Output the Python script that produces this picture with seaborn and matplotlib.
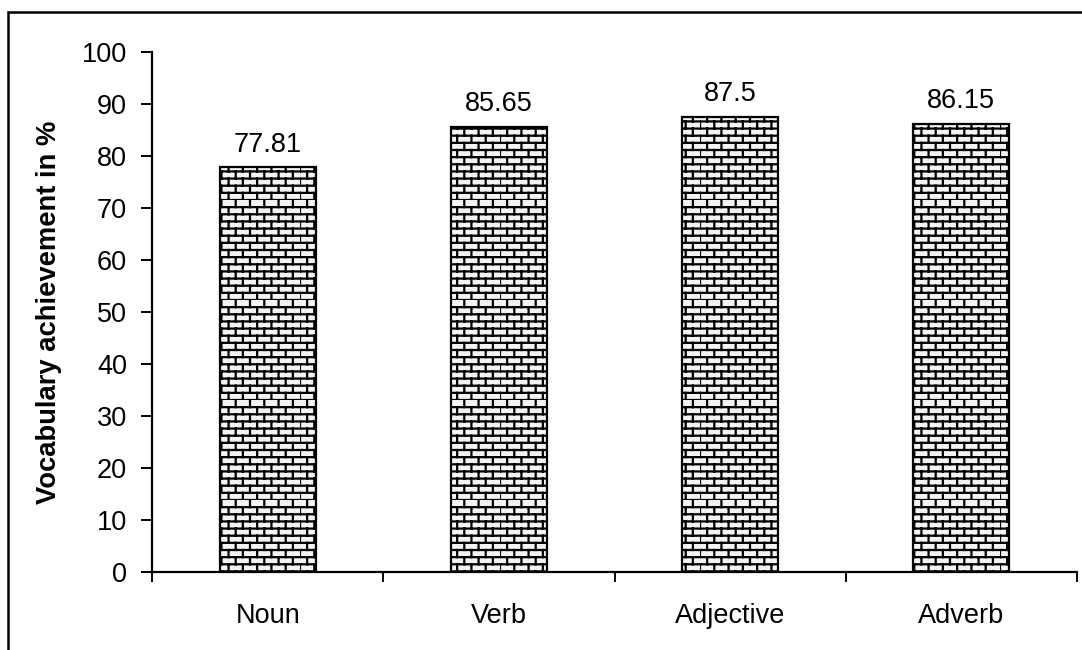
import warnings
import numpy as np
import matplotlib
matplotlib.use("Agg")
import matplotlib.pyplot as plt
import matplotlib.hatch as mhatch
from matplotlib.path import Path
from matplotlib.patches import Rectangle
import seaborn as sns

warnings.filterwarnings("ignore")

# Data
categories = ["Noun", "Verb", "Adjective", "Adverb"]
achievement = [77.81, 85.65, 87.5, 86.15]
y_ticks = [0, 10, 20, 30, 40, 50, 60, 70, 80, 90, 100]
y_label = "Vocabulary achievement in %"

FS = 19.5


class BrickHatch(mhatch.HatchPatternBase):
    """Running-bond brick pattern, selected with the 'b' hatch character."""
    rows = 14
    cols = 7

    def __init__(self, hatch, density):
        self.on = hatch.count("b") > 0
        if self.on:
            # horizontal lines + vertical joints per row
            self.num_vertices = 2 * self.rows + 2 * self.rows * self.cols
        else:
            self.num_vertices = 0

    def set_vertices_and_codes(self, vertices, codes):
        segs = []
        h = 1.0 / self.rows
        w = 1.0 / self.cols
        for i in range(self.rows):
            y0 = i * h
            segs.append(((0.0, y0), (1.0, y0)))
        for i in range(self.rows):
            y0, y1 = i * h, (i + 1) * h
            off = 0.5 * w if i % 2 else 0.0
            for j in range(self.cols):
                x = j * w + off
                segs.append(((x, y0), (x, y1)))
        arr = np.array(segs).reshape(-1, 2)
        vertices[:] = arr
        codes[0::2] = Path.MOVETO
        codes[1::2] = Path.LINETO


mhatch._hatch_types.append(BrickHatch)

sns.set_theme(style="white")
plt.rcParams["font.family"] = ["Liberation Sans", "DejaVu Sans"]
plt.rcParams["text.color"] = "black"
plt.rcParams["axes.labelcolor"] = "black"
plt.rcParams["xtick.color"] = "black"
plt.rcParams["ytick.color"] = "black"
plt.rcParams["hatch.linewidth"] = 1.6
plt.rcParams["hatch.color"] = "black"

fig = plt.figure(figsize=(10.82, 6.5), dpi=100)
ax = fig.add_axes([152 / 1082, 1 - 572 / 650, 925 / 1082, 520 / 650])

sns.barplot(x=categories, y=achievement, ax=ax, width=0.415,
            color="#f2f2f2", saturation=1, edgecolor="black", linewidth=1.6)

for p in ax.patches:
    p.set_facecolor("#f3f3f3")
    p.set_edgecolor("black")
    p.set_hatch("b")

ax.bar_label(ax.containers[0], labels=[f"{v:g}" for v in achievement],
             padding=7, fontsize=FS, color="black")

ax.set_ylim(0, 100)
ax.set_xlim(-0.5, len(categories) - 0.5)
ax.set_yticks(y_ticks)
ax.set_yticklabels([str(t) for t in y_ticks], fontsize=FS, color="black")

# Category boundaries as major ticks, names as minor ticks
ax.set_xticks(np.arange(-0.5, len(categories), 1.0))
ax.set_xticklabels([])
ax.set_xticks(np.arange(len(categories)), minor=True)
ax.set_xticklabels(categories, minor=True, fontsize=FS, color="black")
ax.tick_params(axis="x", which="major", direction="out", length=7.5,
               width=1.4, color="black", bottom=True)
ax.tick_params(axis="x", which="minor", length=0, pad=22)
ax.tick_params(axis="y", direction="out", length=8, width=1.4,
               color="black", left=True, pad=10)

for side in ["top", "right"]:
    ax.spines[side].set_visible(False)
for side in ["left", "bottom"]:
    ax.spines[side].set_color("black")
    ax.spines[side].set_linewidth(1.6)

ax.set_xlabel("")
ax.set_ylabel(y_label, fontsize=19.7, fontweight="bold", color="black")
ax.yaxis.set_label_coords(-0.097, 0.5)

# Outer chart-area border
fig.patches.append(Rectangle((8 / 1082, -0.1), 1.2, 1.1 - 12 / 650,
                             transform=fig.transFigure, fill=False,
                             edgecolor="black", linewidth=1.8,
                             clip_on=False))

fig.savefig("out.png", dpi=100)
